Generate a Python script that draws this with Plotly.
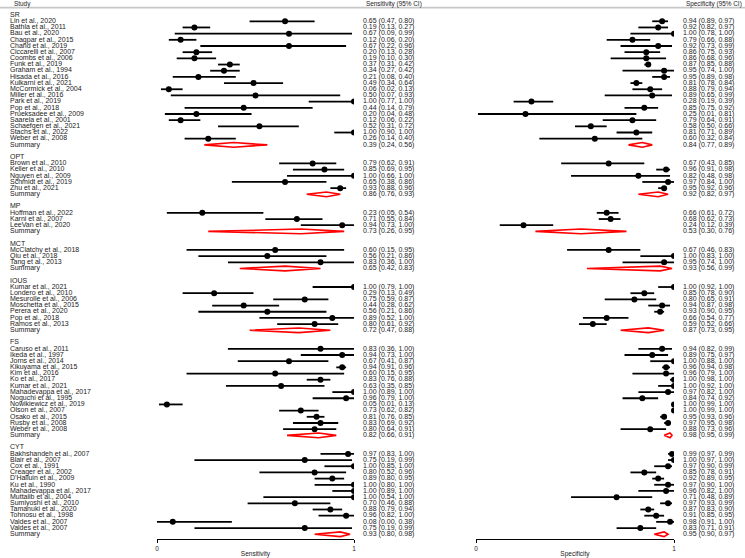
import plotly.graph_objects as go

# ---------------- data ----------------
GROUP_NAMES = ["SR", "OPT", "MP", "MCT", "IOUS", "FS", "CYT"]

SR_STUDIES = ["Lin et al., 2020", "Bathla et al., 2011", "Bau et al., 2020", "Chagpar et al., 2015",
              "Chand et al., 2019", "Ciccarelli et al., 2007", "Coombs et al., 2006", "Funk et al., 2019",
              "Graham et al., 1994", "Hisada et al., 2016", "Kulkarni et al., 2021", "McCormick et al., 2004",
              "Miller et al., 2016", "Park et al., 2019", "Pop et al., 2018", "Prueksadee et al., 2009",
              "Saarela et al., 2001", "Schaefgen et al., 2021", "Stachs et al., 2022", "Weber et al., 2008"]
SR_SENS = [(0.65, 0.47, 0.80), (0.19, 0.13, 0.27), (0.67, 0.09, 0.99), (0.12, 0.06, 0.20),
           (0.67, 0.22, 0.96), (0.20, 0.13, 0.28), (0.19, 0.10, 0.30), (0.37, 0.31, 0.42),
           (0.34, 0.27, 0.42), (0.21, 0.08, 0.40), (0.49, 0.34, 0.64), (0.06, 0.02, 0.13),
           (0.50, 0.07, 0.93), (1.00, 0.77, 1.00), (0.44, 0.14, 0.79), (0.20, 0.04, 0.48),
           (0.12, 0.06, 0.22), (0.52, 0.31, 0.72), (1.00, 0.90, 1.00), (0.26, 0.14, 0.40)]
SR_SPEC = [(0.94, 0.89, 0.97), (0.92, 0.82, 0.97), (1.00, 0.78, 1.00), (0.79, 0.66, 0.88),
           (0.92, 0.73, 0.99), (0.86, 0.75, 0.93), (0.86, 0.68, 0.96), (0.87, 0.85, 0.88),
           (0.95, 0.74, 1.00), (0.95, 0.89, 0.98), (0.81, 0.78, 0.84), (0.88, 0.79, 0.94),
           (0.89, 0.65, 0.99), (0.28, 0.19, 0.39), (0.85, 0.75, 0.92), (0.25, 0.01, 0.81),
           (0.79, 0.64, 0.91), (0.58, 0.50, 0.66), (0.81, 0.71, 0.89), (0.60, 0.32, 0.84)]
SR_SUM_SENS = (0.39, 0.24, 0.56)
SR_SUM_SPEC = (0.84, 0.77, 0.89)

OPT_STUDIES = ["Brown et al., 2010", "Keller et al., 2010", "Nguyen et al., 2009",
               "Schmidt et al., 2019", "Zhu et al., 2021"]
OPT_SENS = [(0.79, 0.62, 0.91), (0.85, 0.69, 0.95), (1.00, 0.66, 1.00), (0.65, 0.38, 0.86), (0.93, 0.88, 0.96)]
OPT_SPEC = [(0.67, 0.43, 0.85), (0.96, 0.91, 0.98), (0.82, 0.48, 0.98), (0.97, 0.84, 1.00), (0.95, 0.92, 0.96)]
OPT_SUM_SENS = (0.86, 0.76, 0.93)
OPT_SUM_SPEC = (0.92, 0.82, 0.97)

MP_STUDIES = ["Hoffman et al., 2022", "Karni et al., 2007", "LeeVan et al., 2020"]
MP_SENS = [(0.23, 0.05, 0.54), (0.71, 0.55, 0.84), (0.94, 0.73, 1.00)]
MP_SPEC = [(0.66, 0.61, 0.72), (0.68, 0.62, 0.73), (0.24, 0.12, 0.39)]
MP_SUM_SENS = (0.73, 0.26, 0.95)
MP_SUM_SPEC = (0.53, 0.30, 0.76)

MCT_STUDIES = ["McClatchy et al., 2018", "Qiu et al., 2018", "Tang et al., 2013"]
MCT_SENS = [(0.60, 0.15, 0.95), (0.56, 0.21, 0.86), (0.83, 0.36, 1.00)]
MCT_SPEC = [(0.67, 0.46, 0.83), (1.00, 0.83, 1.00), (0.95, 0.74, 1.00)]
MCT_SUM_SENS = (0.65, 0.42, 0.83)
MCT_SUM_SPEC = (0.93, 0.56, 0.99)

IOUS_STUDIES = ["Kumar et al., 2021", "Londero et al., 2010", "Mesurolle et al., 2006",
                "Moschetta et al., 2015", "Perera et al., 2020", "Pop et al., 2018", "Ramos et al., 2013"]
IOUS_SENS = [(1.00, 0.79, 1.00), (0.29, 0.13, 0.49), (0.75, 0.59, 0.87), (0.44, 0.28, 0.62),
             (0.56, 0.21, 0.86), (0.89, 0.52, 1.00), (0.80, 0.61, 0.92)]
IOUS_SPEC = [(1.00, 0.92, 1.00), (0.85, 0.78, 0.90), (0.80, 0.65, 0.91), (0.94, 0.87, 0.98),
             (0.93, 0.90, 0.95), (0.66, 0.54, 0.77), (0.59, 0.52, 0.66)]
IOUS_SUM_SENS = (0.72, 0.47, 0.88)
IOUS_SUM_SPEC = (0.87, 0.73, 0.95)

FS_STUDIES = ["Caruso et al., 2011", "Ikeda et al., 1997", "Jorns et al., 2014", "Kikuyama et al., 2015",
              "Kim et al., 2016", "Ko et al., 2017", "Kumar et al., 2021", "Mahadevappa et al., 2017",
              "Noguchi et al., 1995", "Nowikiewicz et al., 2019", "Olson et al., 2007", "Osako et al., 2015",
              "Rusby et al., 2008", "Weber et al., 2008"]
FS_SENS = [(0.83, 0.36, 1.00), (0.94, 0.73, 1.00), (0.67, 0.41, 0.87), (0.94, 0.91, 0.96),
           (0.60, 0.15, 0.95), (0.83, 0.76, 0.88), (0.63, 0.35, 0.85), (1.00, 0.89, 1.00),
           (0.96, 0.79, 1.00), (0.05, 0.01, 0.13), (0.73, 0.62, 0.82), (0.81, 0.76, 0.85),
           (0.83, 0.69, 0.92), (0.80, 0.64, 0.91)]
FS_SPEC = [(0.94, 0.82, 0.99), (0.89, 0.75, 0.97), (1.00, 0.88, 1.00), (0.96, 0.94, 0.98),
           (0.96, 0.79, 1.00), (1.00, 0.98, 1.00), (1.00, 0.92, 1.00), (0.97, 0.82, 1.00),
           (0.84, 0.74, 0.92), (1.00, 0.99, 1.00), (1.00, 0.99, 1.00), (0.95, 0.93, 0.96),
           (0.97, 0.95, 0.98), (0.88, 0.73, 0.96)]
FS_SUM_SENS = (0.82, 0.66, 0.91)
FS_SUM_SPEC = (0.98, 0.95, 0.99)

CYT_STUDIES = ["Bakhshandeh et al., 2007", "Blair et al., 2007", "Cox et al., 1991", "Creager et al., 2002",
               "D'Halluin et al., 2009", "Ku et al., 1990", "Mahadevappa et al., 2017", "Muttalib et al., 2004",
               "Sumiyoshi et al., 2010", "Tamanuki et al., 2020", "Tohnosu et al., 1998", "Valdes et al., 2007",
               "Valdes et al., 2007"]
CYT_SENS = [(0.97, 0.83, 1.00), (0.75, 0.19, 0.99), (1.00, 0.85, 1.00), (0.80, 0.52, 0.96),
            (0.89, 0.80, 0.95), (1.00, 0.80, 1.00), (1.00, 0.89, 1.00), (1.00, 0.54, 1.00),
            (0.70, 0.46, 0.88), (0.88, 0.79, 0.94), (0.96, 0.82, 1.00), (0.08, 0.00, 0.38),
            (0.75, 0.19, 0.99)]
CYT_SPEC = [(0.99, 0.97, 0.99), (1.00, 0.97, 1.00), (0.97, 0.90, 0.99), (0.85, 0.78, 0.91),
            (0.92, 0.89, 0.95), (0.97, 0.90, 1.00), (0.96, 0.82, 1.00), (0.71, 0.48, 0.89),
            (0.97, 0.93, 0.99), (0.87, 0.83, 0.90), (0.91, 0.85, 0.95), (0.98, 0.91, 1.00),
            (0.83, 0.71, 0.91)]
CYT_SUM_SENS = (0.93, 0.80, 0.98)
CYT_SUM_SPEC = (0.95, 0.90, 0.97)

AXIS_TICKS = [0, 1]
AXIS_TICK_LABELS = ["0", "1"]

GROUPS = [
    ("SR", SR_STUDIES, SR_SENS, SR_SPEC, SR_SUM_SENS, SR_SUM_SPEC),
    ("OPT", OPT_STUDIES, OPT_SENS, OPT_SPEC, OPT_SUM_SENS, OPT_SUM_SPEC),
    ("MP", MP_STUDIES, MP_SENS, MP_SPEC, MP_SUM_SENS, MP_SUM_SPEC),
    ("MCT", MCT_STUDIES, MCT_SENS, MCT_SPEC, MCT_SUM_SENS, MCT_SUM_SPEC),
    ("IOUS", IOUS_STUDIES, IOUS_SENS, IOUS_SPEC, IOUS_SUM_SENS, IOUS_SUM_SPEC),
    ("FS", FS_STUDIES, FS_SENS, FS_SPEC, FS_SUM_SENS, FS_SUM_SPEC),
    ("CYT", CYT_STUDIES, CYT_SENS, CYT_SPEC, CYT_SUM_SENS, CYT_SUM_SPEC),
]

# ---------------- layout constants ----------------
W, H = 745, 558
FONT = "Liberation Sans, Arial, sans-serif"
TXT_COLOR = "#1a1a1a"
X_NAME, X_SENS_TXT, X_SPEC_TXT = 10, 363, 683
DIAMOND_HALF = 0.38

def fmt(t):
    return f"{t[0]:.2f} ({t[1]:.2f}, {t[2]:.2f})"

# Build rows
names, name_rows = [], []
sens_txt, spec_txt, txt_rows = [], [], []
pt_rows, sens_pts, spec_pts = [], [], []
sum_rows, sum_sens, sum_spec = [], [], []
row = 0
for gname, studies, sens, spec, ssum, psum in GROUPS:
    names.append(gname); name_rows.append(row); row += 1
    for st, se, sp in zip(studies, sens, spec):
        names.append(st); name_rows.append(row)
        sens_txt.append(fmt(se)); spec_txt.append(fmt(sp)); txt_rows.append(row)
        pt_rows.append(row); sens_pts.append(se); spec_pts.append(sp)
        row += 1
    names.append("Summary"); name_rows.append(row)
    sens_txt.append(fmt(ssum)); spec_txt.append(fmt(psum)); txt_rows.append(row)
    sum_rows.append(row); sum_sens.append(ssum); sum_spec.append(psum)
    row += 2

ROW_PX = 6.18
TOP_PX = 15.1
AXIS_PX = 539
y_top = -TOP_PX / ROW_PX
y_bot = y_top + AXIS_PX / ROW_PX

fig = go.Figure()

def add_forest(xaxis, pts, sums):
    lx, ly = [], []
    for r, t in zip(pt_rows, pts):
        lx += [t[1], t[2], None]; ly += [r, r, None]
    fig.add_trace(go.Scatter(x=lx, y=ly, mode="lines", xaxis=xaxis, yaxis="y",
                             line=dict(color="black", width=1.8), hoverinfo="skip", showlegend=False))
    fig.add_trace(go.Scatter(x=[t[0] for t in pts], y=pt_rows, mode="markers", xaxis=xaxis, yaxis="y",
                             marker=dict(color="black", size=6), showlegend=False))
    dx, dy = [], []
    for r, t in zip(sum_rows, sums):
        dx += [t[1], t[0], t[2], t[0], t[1], None]
        dy += [r, r - DIAMOND_HALF, r, r + DIAMOND_HALF, r, None]
    fig.add_trace(go.Scatter(x=dx, y=dy, mode="lines", fill="toself", fillcolor="white",
                             xaxis=xaxis, yaxis="y", line=dict(color="red", width=1.6),
                             hoverinfo="skip", showlegend=False))

add_forest("x", sens_pts, sum_sens)
add_forest("x2", spec_pts, sum_spec)

name_font = dict(family=FONT, size=7, color=TXT_COLOR)
num_font = dict(family=FONT, size=7, color=TXT_COLOR)
head_font = dict(family=FONT, size=6.4, color=TXT_COLOR)

fig.add_trace(go.Scatter(x=[X_NAME] * len(names), y=name_rows, text=names, mode="text",
                         textposition="middle right", textfont=name_font, xaxis="x3", yaxis="y",
                         showlegend=False, hoverinfo="skip"))
fig.add_trace(go.Scatter(x=[X_SENS_TXT] * len(sens_txt), y=txt_rows, text=sens_txt, mode="text",
                         textposition="middle right", textfont=num_font, xaxis="x3", yaxis="y",
                         showlegend=False, hoverinfo="skip"))
fig.add_trace(go.Scatter(x=[X_SPEC_TXT] * len(spec_txt), y=txt_rows, text=spec_txt, mode="text",
                         textposition="middle right", textfont=num_font, xaxis="x3", yaxis="y",
                         showlegend=False, hoverinfo="skip"))

# header
head_row = y_top + 4.0 / ROW_PX
line_row = y_top + 7.6 / ROW_PX
for xp, t in [(X_NAME + 2, "Study"), (X_SENS_TXT + 1, "Sensitivity (95% CI)"), (X_SPEC_TXT + 1, "Specificity (95% CI)")]:
    fig.add_annotation(x=xp, y=head_row, xref="x3", yref="y", text=t, showarrow=False,
                       xanchor="left", yanchor="middle", font=head_font)
fig.add_shape(type="line", xref="paper", yref="y", x0=0, x1=1, y0=line_row, y1=line_row,
              line=dict(color="#c8c8c8", width=1.6))

axis_common = dict(range=[0, 1], showgrid=False, zeroline=False, showline=True,
                   linecolor="black", linewidth=1.2, ticks="outside", ticklen=3, tickwidth=1,
                   tickcolor="black", tickvals=AXIS_TICKS, ticktext=AXIS_TICK_LABELS,
                   tickfont=dict(family=FONT, size=6.5, color=TXT_COLOR), anchor="y",
                   automargin=False, fixedrange=True)
fig.update_layout(
    width=W, height=H, margin=dict(l=0, r=0, t=0, b=0),
    paper_bgcolor="white", plot_bgcolor="rgba(0,0,0,0)", showlegend=False,
    xaxis=dict(domain=[157 / W, 354 / W],
               title=dict(text="Sensitivity", font=dict(family=FONT, size=6.5, color=TXT_COLOR), standoff=1),
               **axis_common),
    xaxis2=dict(domain=[476 / W, 674 / W],
                title=dict(text="Specificity", font=dict(family=FONT, size=6.5, color=TXT_COLOR), standoff=1),
                **axis_common),
    xaxis3=dict(domain=[0, 1], range=[0, W], visible=False, anchor="y", fixedrange=True),
    yaxis=dict(domain=[(H - AXIS_PX) / H, 1], range=[y_bot, y_top], visible=False, fixedrange=True),
)

fig.write_html("out.html", config={"displayModeBar": False},
               post_script="document.body.style.margin='0';document.body.style.overflow='hidden';")
